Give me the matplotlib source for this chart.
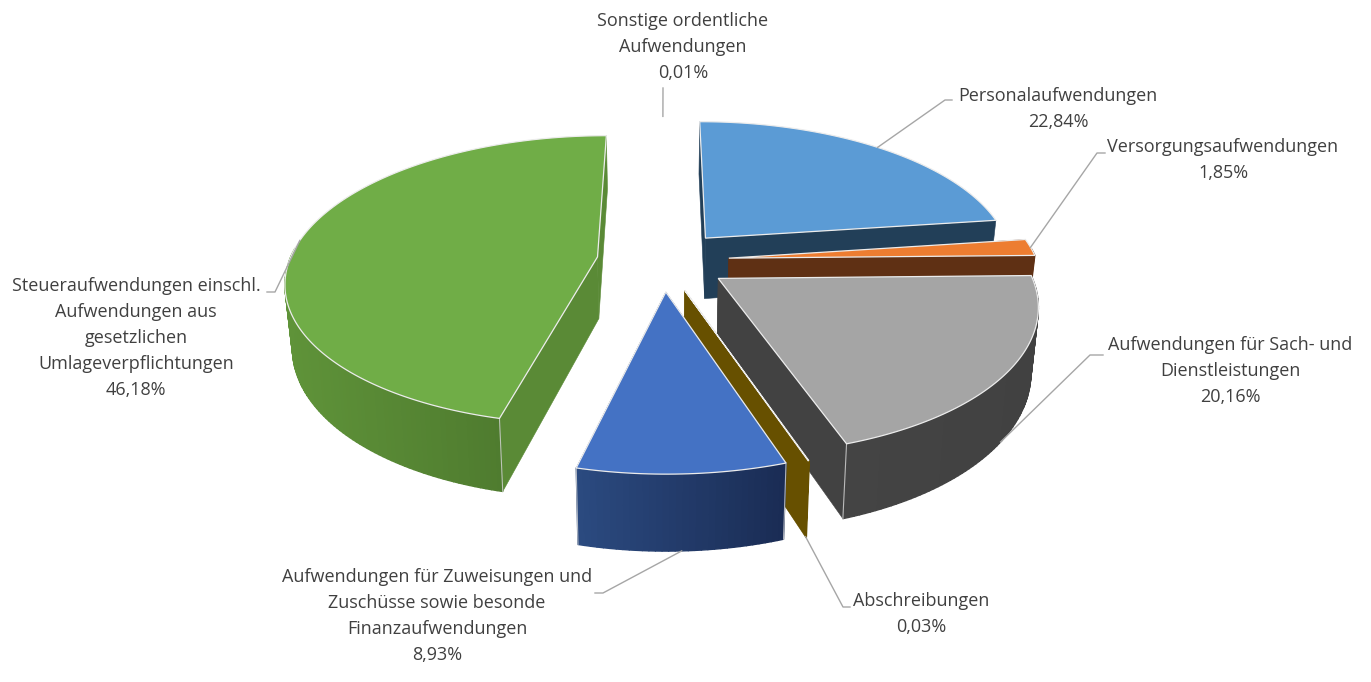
import numpy as np
import matplotlib
matplotlib.use("Agg")
import matplotlib.pyplot as plt
from matplotlib.collections import PolyCollection
from matplotlib.colors import to_rgb

labels = [
    "Personalaufwendungen",
    "Versorgungsaufwendungen",
    "Aufwendungen für Sach- und\nDienstleistungen",
    "Abschreibungen",
    "Aufwendungen für Zuweisungen und\nZuschüsse sowie besonde\nFinanzaufwendungen",
    "Steueraufwendungen einschl.\nAufwendungen aus\ngesetzlichen\nUmlageverpflichtungen",
    "Sonstige ordentliche\nAufwendungen",
]
values = [22.84, 1.85, 20.16, 0.03, 8.93, 46.18, 0.01]

top_colors = ["#5B9BD5", "#ED7D31", "#A5A5A5", "#FFC000", "#4472C4", "#70AD47", "#264478"]
face_colors = ["#223F58", "#5F3014", "#424242", "#675000", "#24406F", "#5A8A36", "#16284A"]
wall_left = ["#2A4E6E", "#5F3014", "#444444", "#675000", "#2B4A80", "#5F9339", "#1C3158"]
wall_right = ["#223F58", "#5F3014", "#414141", "#675000", "#1A2C54", "#47702A", "#16284A"]
# back to front; the 0,01 % slice is too thin to show in the reference
draw_order = [5, 0, 1, 2, 3, 4]

# pixel layout of the pie
cx, cy = 663, 260.5
radius, tilt, persp = 308, 0.46, 0.16
explode, depth, bottom_shrink = 0.215, 62, 0.98

text_pos = [(1058, 109), (1223, 160), (1230, 371), (921, 614), (437, 616), (136, 338), (683, 47)]
leader_start = [
    [(945, 100), (952, 100)],
    [(1097, 153), (1105, 153)],
    [(1090, 355), (1103, 355)],
    [(843, 607), (850, 607)],
    [(603, 593), (595, 593)],
    [(275, 292), (267, 292)],
    [(663, 88)],
]
leader_depth = [0, 0, 1, 1, 1, 0, 0]

shares = np.array(values) / sum(values)
edges = np.concatenate([[0], np.cumsum(shares)]) * 2 * np.pi
mids = (edges[:-1] + edges[1:]) / 2


def project(u, v, z=0.0):
    # u, v in the pie plane, z = 0 top, 1 bottom
    s = 1 / (1 + persp * v)
    x = radius * u * s * (1 - (1 - bottom_shrink) * z)
    return cx + x, cy - radius * tilt * v * s + depth * s * z


def offset(i):
    return explode * np.sin(mids[i]), explode * np.cos(mids[i])


def rim_point(i, z=0.0):
    du, dv = offset(i)
    return project(np.sin(mids[i]) + du, np.cos(mids[i]) + dv, z)


def draw_slice(ax, i, z):
    du, dv = offset(i)
    n = max(int((edges[i + 1] - edges[i]) * 60), 2)
    th = np.linspace(edges[i], edges[i + 1], n)
    u, v = np.sin(th) + du, np.cos(th) + dv

    xt, yt = project(u, v)
    xb, yb = project(u, v, 1.0)

    # the two cut faces
    ax0, ay0 = project(du, dv)
    bx0, by0 = project(du, dv, 1.0)
    for k in (0, -1):
        ax.fill([ax0, xt[k], xb[k], bx0], [ay0, yt[k], yb[k], by0], color=face_colors[i], lw=0.4, zorder=z)

    # outer wall as strips, shaded from left to right, only the part facing the viewer
    polys, cols = [], []
    c0, c1 = np.array(to_rgb(wall_left[i])), np.array(to_rgb(wall_right[i]))
    span = max(xt.max() - xt.min(), 1)
    for k in range(n - 1):
        if np.cos(th[k]) > 0.05 and np.cos(th[k + 1]) > 0.05:
            continue
        polys.append([(xt[k], yt[k]), (xt[k + 1], yt[k + 1]), (xb[k + 1], yb[k + 1]), (xb[k], yb[k])])
        f = ((xt[k] + xt[k + 1]) / 2 - xt.min()) / span
        cols.append(c0 + (c1 - c0) * f)
    ax.add_collection(PolyCollection(polys, facecolors=cols, edgecolors=cols, linewidths=1.0, zorder=z + 0.1))

    # light corner lines at the front
    if shares[i] > 0.01:
        for k in (0, -1):
            if np.cos(th[k]) < -0.1:
                ax.plot([xt[k], xb[k]], [yt[k], yb[k]], color="#d8d8d8", lw=0.8, alpha=0.8, zorder=z + 0.2)

    # top face
    ax.fill(np.r_[ax0, xt], np.r_[ay0, yt], facecolor=top_colors[i], edgecolor="#ececec", lw=0.9, zorder=z + 0.3)


fig = plt.figure(figsize=(13.71, 6.82), dpi=100)
ax = fig.add_axes([0, 0, 1, 1])
ax.set_xlim(0, 1371)
ax.set_ylim(682, 0)
ax.axis("off")

for rank, i in enumerate(draw_order):
    draw_slice(ax, i, rank + 1)

for i, lab in enumerate(labels):
    tx, ty = text_pos[i]
    val = f"{values[i]:.2f}".replace(".", ",") + "%"
    ax.text(tx, ty, lab + "\n" + val, ha="center", va="center", family="Open Sans", fontsize=13,
            color="#404040", linespacing=1.57, zorder=100)
    ex, ey = rim_point(i, leader_depth[i])
    pts = [(ex, ey)] + leader_start[i]
    ax.plot([p[0] for p in pts], [p[1] for p in pts], color="#A6A6A6", lw=1.0, zorder=99)

fig.savefig("out.png", dpi=100)
